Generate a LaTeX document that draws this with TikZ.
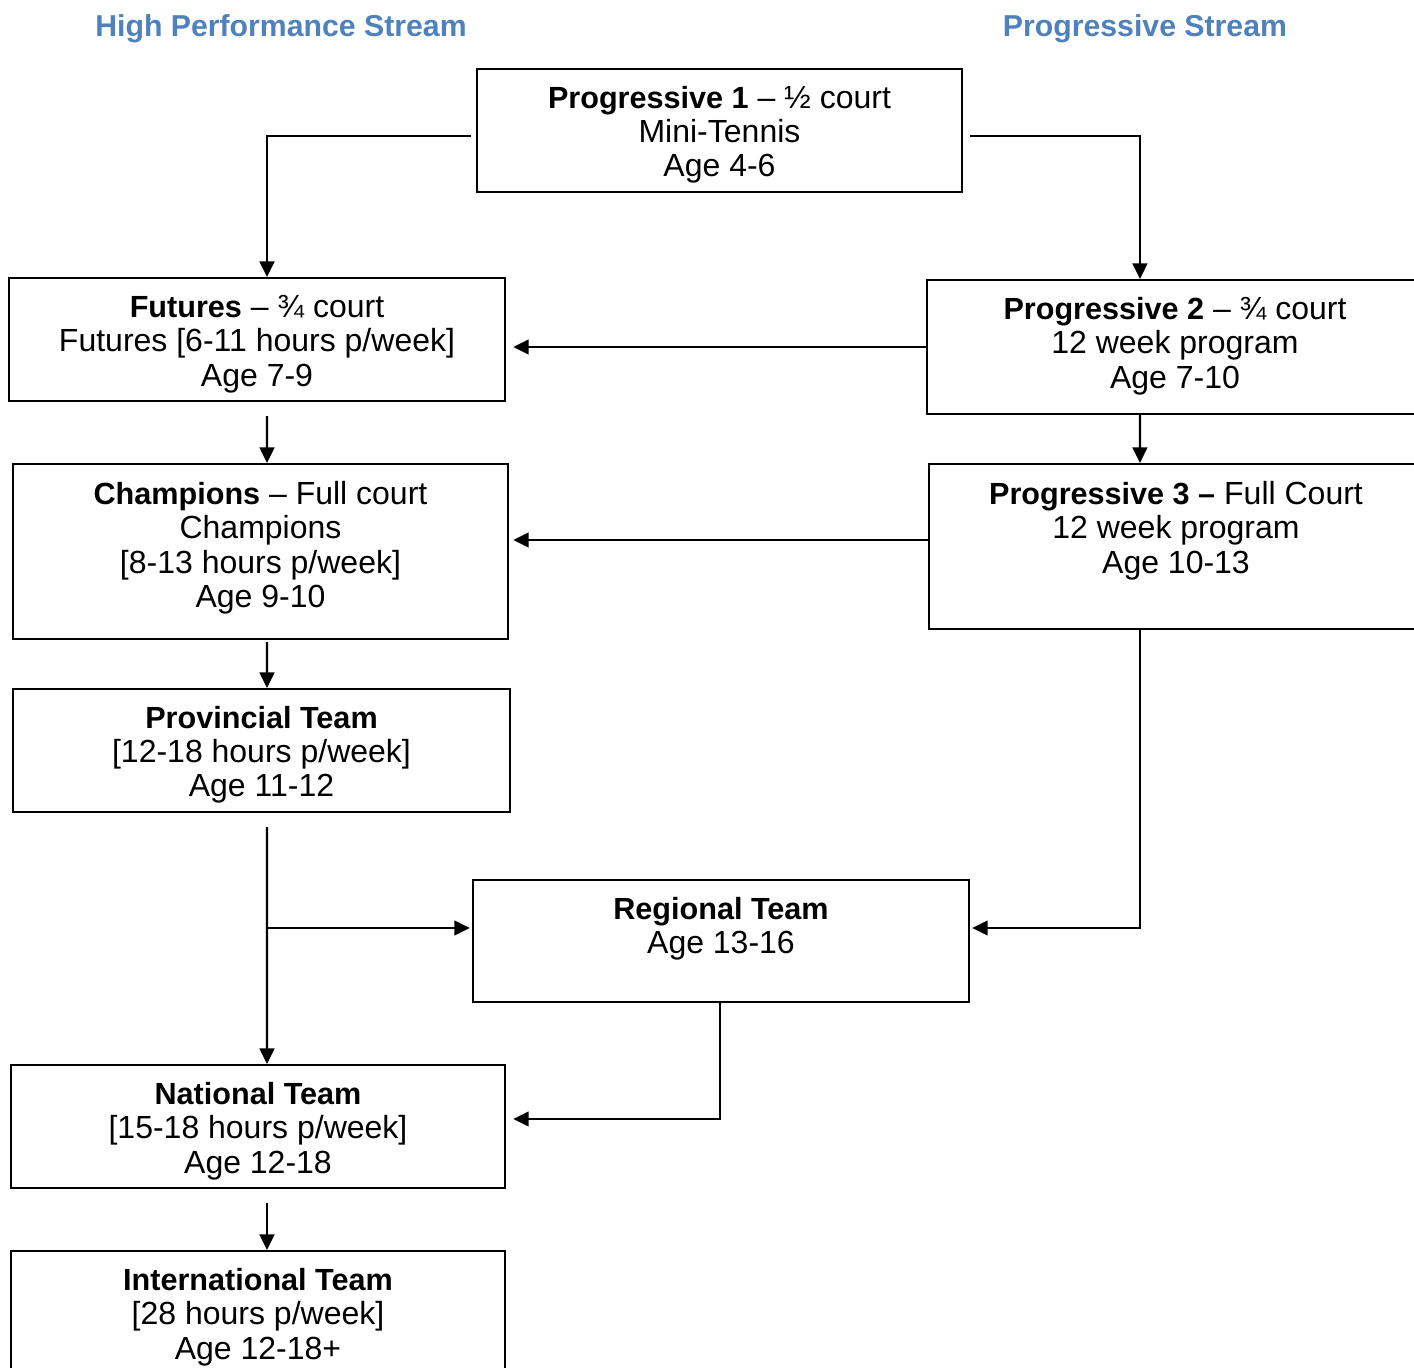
\documentclass[tikz,border=0pt]{standalone}
\usepackage{fontspec}
\setmainfont{Liberation Sans}
\usetikzlibrary{arrows.meta,calc}
\definecolor{streamblue}{RGB}{79,129,189}
\newcommand{\lvl}[1]{{\fontsize{8.7}{9.7}\selectfont\bfseries #1}}

\tikzset{
  box/.style={draw=black, line width=0.6pt, inner sep=0pt},
  txt/.style={anchor=north, inner sep=0pt, align=center, font=\fontsize{9.1}{9.7}\selectfont},
  head/.style={text=streamblue, font=\fontsize{8.6}{10}\selectfont\bfseries},
  arr/.style={line width=0.6pt, ->},
}

\begin{document}
\begin{tikzpicture}[x=0.01cm, y=-0.01cm, >={Triangle[length=4.4pt,width=4.2pt]}]
\useasboundingbox (0,0) rectangle (1414,1368);

% stream titles
\node[head] (hp) at (281,29) {High Performance Stream};
\node[head] (ps) at (1145,29) {Progressive Stream};

% boxes
\node[box, minimum width=4.85cm, minimum height=1.23cm] (p1) at (719.5,130.5) {};
\node[txt] at ([yshift=-0.18cm]p1.north) {\lvl{Progressive 1} -- ½ court\\Mini-Tennis\\Age 4-6};

\node[box, minimum width=4.96cm, minimum height=1.23cm] (fut) at (257,339.5) {};
\node[txt] at ([yshift=-0.18cm]fut.north) {\lvl{Futures} -- ¾ court\\Futures [6-11 hours p/week]\\Age 7-9};

\node[box, minimum width=5.0cm, minimum height=1.34cm] (p2) at (1177,347) {};
\node[txt] at ([xshift=-0.02cm,yshift=-0.18cm]p2.north) {\lvl{Progressive 2} -- ¾ court\\12 week program\\Age 7-10};

\node[box, minimum width=4.95cm, minimum height=1.75cm] (cha) at (260.5,551.5) {};
\node[txt] at ([yshift=-0.18cm]cha.north) {\lvl{Champions} -- Full court\\Champions\\{}[8-13 hours p/week]\\Age 9-10};

\node[box, minimum width=5.0cm, minimum height=1.65cm] (p3) at (1179,546.5) {};
\node[txt] at ([xshift=-0.03cm,yshift=-0.18cm]p3.north) {\lvl{Progressive 3 --} Full Court\\12 week program\\Age 10-13};

\node[box, minimum width=4.97cm, minimum height=1.23cm] (pro) at (261.5,750.5) {};
\node[txt] at ([yshift=-0.18cm]pro.north) {\lvl{Provincial Team}\\{}[12-18 hours p/week]\\Age 11-12};

\node[box, minimum width=4.96cm, minimum height=1.22cm] (reg) at (721,941) {};
\node[txt] at ([yshift=-0.18cm]reg.north) {\lvl{Regional Team}\\Age 13-16};

\node[box, minimum width=4.94cm, minimum height=1.23cm] (nat) at (258,1126.5) {};
\node[txt] at ([yshift=-0.18cm]nat.north) {\lvl{National Team}\\{}[15-18 hours p/week]\\Age 12-18};

\node[box, minimum width=4.94cm, minimum height=1.23cm] (int) at (258,1312.5) {};
\node[txt] at ([yshift=-0.18cm]int.north) {\lvl{International Team}\\{}[28 hours p/week]\\Age 12-18+};

% connectors
\draw[arr] ([xshift=-0.05cm,yshift=-0.055cm]p1.west) -| ([xshift=0.1cm]fut.north);
\draw[arr] ([xshift=0.07cm,yshift=-0.055cm]p1.east) -| ([xshift=-0.37cm]p2.north);
\draw[arr] (p2.west) -- ([xshift=0.07cm]p2.west -| fut.east);
\draw[arr] ([xshift=0.1cm,yshift=-0.14cm]fut.south) -- ([xshift=0.065cm]cha.north);
\draw[arr] ([xshift=-0.37cm]p2.south) -- ([xshift=-0.39cm]p3.north);
\draw[arr] ([yshift=0.065cm]p3.west) -- ([xshift=0.04cm,yshift=0.065cm]p3.west -| cha.east);
\draw[arr] ([xshift=0.065cm,yshift=-0.02cm]cha.south) -- ([xshift=0.055cm]pro.north);
\draw[arr] ([xshift=-0.39cm]p3.south) |- ([xshift=0.02cm,yshift=0.13cm]reg.east);
\draw[arr] ([xshift=0.055cm,yshift=-0.14cm]pro.south) -- ([xshift=0.09cm]nat.north);
\draw[arr] ([xshift=0.055cm,yshift=0.13cm]pro.south |- reg.west) -- ([xshift=-0.02cm,yshift=0.13cm]reg.west);
\draw[arr] ([xshift=-0.01cm]reg.south) |- ([xshift=0.07cm,yshift=0.075cm]nat.east);
\draw[arr] ([xshift=0.09cm,yshift=-0.14cm]nat.south) -- ([xshift=0.09cm]int.north);

\end{tikzpicture}
\end{document}
